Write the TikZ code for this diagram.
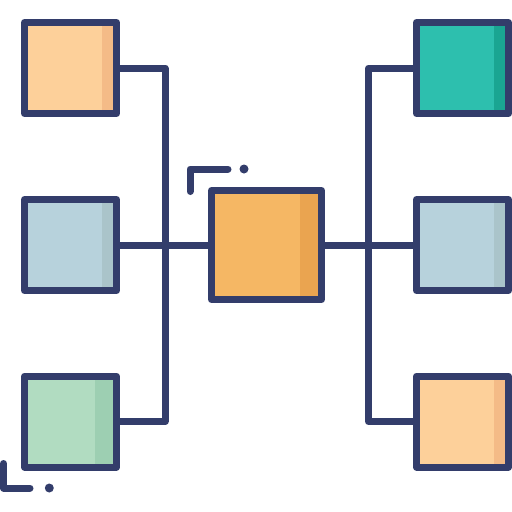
\documentclass[tikz,border=0pt]{standalone}
\definecolor{navy}{RGB}{51,61,107}
\definecolor{peach}{RGB}{253,208,154}
\definecolor{peachd}{RGB}{244,187,135}
\definecolor{amber}{RGB}{245,183,100}
\definecolor{amberd}{RGB}{234,164,80}
\definecolor{frost}{RGB}{183,210,220}
\definecolor{frostd}{RGB}{170,196,202}
\definecolor{mint}{RGB}{177,220,193}
\definecolor{mintd}{RGB}{157,207,178}
\definecolor{teal}{RGB}{45,191,174}
\definecolor{teald}{RGB}{26,165,146}
\tikzset{
	box/.style={draw=navy, rectangle, inner sep=0pt, minimum width=92pt, minimum height=91pt},
	bigbox/.style={box, minimum width=110pt, minimum height=109pt},
	stripe/.style 2 args={path picture={\fill[#1] ([xshift=-#2]path picture bounding box.north east) rectangle (path picture bounding box.south east);}}
}
\begin{document}
\begin{tikzpicture}[x=1pt, y=-1pt, line width=7pt, line join=round, line cap=round, color=navy]
	\useasboundingbox (0,0) rectangle (512,512);
	% cac o ben trai
	\node[box, fill=peach, stripe={peachd}{14.5pt}] (tl) at (70.5,68) {};
	\node[box, fill=frost, stripe={frostd}{14.5pt}] (ml) at (70.5,245) {};
	\node[box, fill=mint, stripe={mintd}{21.5pt}] (bl) at (70.5,421.5) {};
	% o giua
	\node[bigbox, fill=amber, stripe={amberd}{21.5pt}] (cb) at (266.5,245) {};
	% cac o ben phai
	\node[box, fill=teal, stripe={teald}{14.5pt}] (tr) at (462.5,68) {};
	\node[box, fill=frost, stripe={frostd}{14.5pt}] (mr) at (462.5,245) {};
	\node[box, fill=peach, stripe={peachd}{14.5pt}] (br) at (462.5,421.5) {};
	\coordinate (lspine) at (165,245);
	\coordinate (rspine) at (368.5,245);
	% duong noi
	\draw (tl.east) -| (lspine) |- (bl.east);
	\draw (ml.east) -- (cb.west);
	\draw (cb.east) -- (mr.west);
	\draw (tr.west) -| (rspine) |- (br.west);
	% goc trang tri
	\draw (190,191.5) -- (190,169) -- (228,169);
	\fill (244,169) circle (4.5);
	\draw (3.5,463.5) -- (3.5,488) -- (30,488);
	\fill (49.3,488) circle (4.5);
\end{tikzpicture}
\end{document}
